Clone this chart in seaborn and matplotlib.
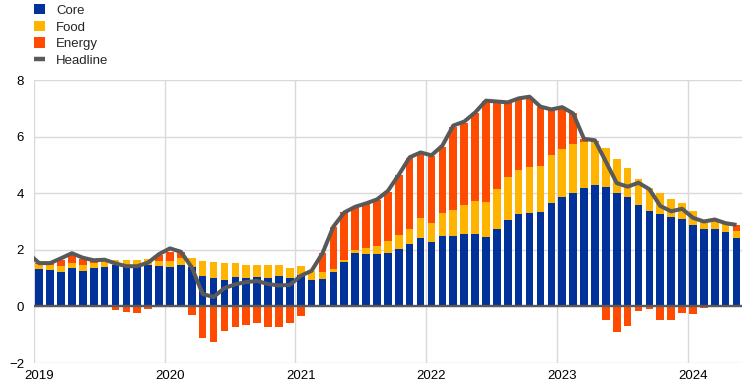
import numpy as np
import pandas as pd
import matplotlib
matplotlib.use("Agg")
import matplotlib.pyplot as plt
import seaborn as sns
from matplotlib.patches import Patch
from matplotlib.lines import Line2D

# Monthly contributions, Jan 2019 - May 2024 (percentage points)
core = [1.33, 1.29, 1.22, 1.36, 1.26, 1.36, 1.40, 1.45, 1.40, 1.40, 1.47, 1.44,
        1.40, 1.47, 1.41, 1.08, 1.01, 0.94, 1.05, 1.01, 1.04, 1.01, 1.08, 1.01,
        1.12, 0.94, 0.98, 1.22, 1.58, 1.87, 1.84, 1.84, 1.89, 2.04, 2.19, 2.42,
        2.28, 2.49, 2.49, 2.56, 2.56, 2.47, 2.74, 3.06, 3.27, 3.31, 3.34, 3.66,
        3.85, 4.01, 4.19, 4.29, 4.22, 4.01, 3.87, 3.59, 3.38, 3.27, 3.16, 3.09,
        2.88, 2.74, 2.74, 2.64, 2.42]
food = [0.16, 0.18, 0.22, 0.18, 0.21, 0.19, 0.19, 0.20, 0.25, 0.25, 0.21, 0.18,
        0.21, 0.24, 0.31, 0.53, 0.57, 0.58, 0.49, 0.46, 0.43, 0.46, 0.39, 0.35,
        0.31, 0.32, 0.24, 0.11, 0.07, 0.13, 0.23, 0.31, 0.43, 0.47, 0.55, 0.71,
        0.67, 0.82, 0.92, 1.03, 1.17, 1.22, 1.41, 1.52, 1.55, 1.62, 1.62, 1.69,
        1.71, 1.73, 1.63, 1.51, 1.38, 1.20, 1.02, 0.92, 0.80, 0.74, 0.64, 0.57,
        0.50, 0.28, 0.28, 0.28, 0.25]
energy = [0.04, 0.06, 0.21, 0.26, 0.21, 0.08, 0.04, -0.14, -0.21, -0.25, -0.10, 0.20,
          0.33, 0.20, -0.32, -1.13, -1.24, -0.88, -0.74, -0.64, -0.60, -0.71, -0.74, -0.60,
          -0.35, 0.00, 0.67, 1.49, 1.67, 1.49, 1.55, 1.61, 1.74, 2.14, 2.51, 2.28,
          2.37, 2.34, 2.94, 2.90, 3.09, 3.58, 3.09, 2.62, 2.53, 2.48, 2.08, 1.61,
          1.40, 1.08, 0.09, 0.05, -0.47, -0.89, -0.68, -0.15, -0.08, -0.47, -0.47, -0.22,
          -0.26, -0.06, 0.02, 0.02, 0.20]
# Headline, Dec 2018 - May 2024
headline = [1.87,
            1.53, 1.53, 1.70, 1.88, 1.72, 1.63, 1.65, 1.52, 1.42, 1.42, 1.55, 1.85,
            2.05, 1.93, 1.38, 0.44, 0.33, 0.65, 0.78, 0.86, 0.90, 0.79, 0.74, 0.76,
            1.08, 1.26, 1.88, 2.82, 3.32, 3.52, 3.64, 3.78, 4.08, 4.65, 5.27, 5.44,
            5.34, 5.68, 6.39, 6.53, 6.85, 7.27, 7.24, 7.21, 7.35, 7.41, 7.06, 6.96,
            7.04, 6.82, 5.92, 5.87, 5.12, 4.36, 4.23, 4.37, 4.14, 3.55, 3.36, 3.45,
            3.13, 3.00, 3.07, 2.94, 2.88]
year_labels = ["2019", "2020", "2021", "2022", "2023", "2024"]

c_core = "#003299"
c_food = "#ffb400"
c_energy = "#ff4b00"
c_head = "#595959"
grid_c = "#d9d9d9"

sns.set_theme(style="white")
plt.rcParams["font.family"] = ["Liberation Sans", "DejaVu Sans"]

df = pd.DataFrame({"pos": np.arange(len(core)), "core": core,
                   "food": food, "energy": energy})
core_a = df["core"].to_numpy()
food_a = df["food"].to_numpy()
en_a = df["energy"].to_numpy()
en_bottom = np.where(en_a > 0, core_a + food_a, 0)

fig, ax = plt.subplots(figsize=(7.42, 3.88), dpi=100)
fig.subplots_adjust(left=0.0455, right=1.0, bottom=0.0644, top=0.7938)

bar_kw = dict(width=0.7, saturation=1, linewidth=0, edgecolor="none",
              errorbar=None, ax=ax, zorder=2)
sns.barplot(data=df, x="pos", y="core", color=c_core, **bar_kw)
sns.barplot(data=df, x="pos", y="food", color=c_food, bottom=core_a, **bar_kw)
sns.barplot(data=df, x="pos", y="energy", color=c_energy, bottom=en_bottom, **bar_kw)

ax.axhline(0, color=c_head, lw=1.7, zorder=3)

line_pos = np.arange(-1, len(core))
sns.lineplot(x=line_pos, y=headline, color=c_head, lw=2.9, ax=ax, zorder=4,
             solid_capstyle="butt")

ax.set_xlim(-0.5, len(core) - 0.5)
ax.set_ylim(-2, 8)
ax.set_yticks(np.arange(-2, 9, 2))
ax.set_xticks(np.arange(0, len(core), 12))
ax.set_xticklabels(year_labels)
ax.set_xticks(np.arange(-0.5, len(core), 12), minor=True)
ax.set_xlabel("")
ax.set_ylabel("")

ax.grid(False)
ax.grid(True, which="major", axis="y", color=grid_c, lw=1, zorder=0)
ax.grid(True, which="minor", axis="x", color=grid_c, lw=1, zorder=0)
ax.set_axisbelow(True)
for s in ax.spines.values():
    s.set_visible(False)
ax.tick_params(axis="both", which="both", length=0, labelsize=9.5, colors="#000000")
ax.tick_params(axis="y", pad=7)
ax.tick_params(axis="x", pad=5)

handles = [Patch(facecolor=c_core, edgecolor="none"),
           Patch(facecolor=c_food, edgecolor="none"),
           Patch(facecolor=c_energy, edgecolor="none"),
           Line2D([0], [0], color=c_head, lw=3.2, solid_capstyle="butt")]
fig.legend(handles, ["Core", "Food", "Energy", "Headline"],
           loc="upper left", bbox_to_anchor=(0.043, 0.995), frameon=False,
           fontsize=9.5, handlelength=0.85, handleheight=0.85,
           handletextpad=0.85, labelspacing=0.3, borderpad=0.15, borderaxespad=0)

fig.savefig("out.png", dpi=100)
